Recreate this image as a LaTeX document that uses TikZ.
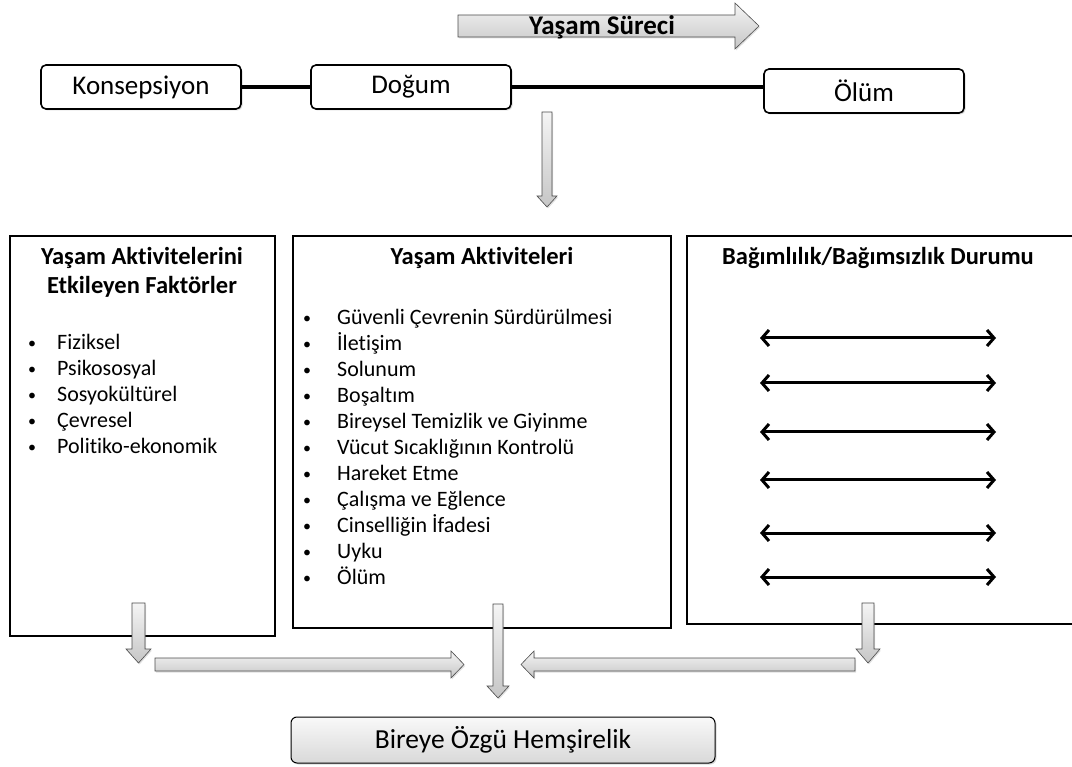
\documentclass[tikz,border=0pt]{standalone}
\usepackage{fontspec}
\setmainfont{Carlito}[Ligatures=NoCommon]
\usetikzlibrary{arrows.meta,shadows}
\newcommand{\blt}[1]{\makebox[#1][l]{\raisebox{1pt}{\fontsize{16}{16}\selectfont\textbullet}}}
\begin{document}
\begin{tikzpicture}[x=1pt,y=-1pt,
  stagebox/.style={draw,line width=1.6pt,rounded corners=5pt,fill=white,
    minimum width=200pt,minimum height=44pt,inner sep=0pt,
    font=\fontsize{27}{30}\selectfont,
    drop shadow={opacity=0.3,shadow xshift=1.5pt,shadow yshift=-1.5pt}},
  panel/.style={draw,line width=1.8pt,fill=white,inner sep=0pt,anchor=north west,
    drop shadow={opacity=0.3,shadow xshift=1.5pt,shadow yshift=-1.5pt}},
  paneltitle/.style={align=center,inner sep=0pt,font=\fontsize{24.5}{29}\selectfont\bfseries},
  itemlist/.style={align=left,inner sep=0pt,anchor=north west,font=\fontsize{22}{26}\selectfont},
  barrow/.style={draw=gray!60!black,line width=0.6pt,top color=gray!8,bottom color=gray!45,
    drop shadow={opacity=0.25,shadow xshift=1pt,shadow yshift=-1.5pt}},
  dblarrow/.style={line width=3pt,{Straight Barb[length=7pt,width=16pt]}-{Straight Barb[length=7pt,width=16pt]}},
  link/.style={line width=3.5pt}
]
\useasboundingbox (0,0) rectangle (1072,767);

% life process arrow
\path[barrow] (458,15) -- (735,15) -- (735,3) -- (759,26) -- (735,49) -- (735,37) -- (458,37) -- cycle;
\node[font=\fontsize{27}{30}\selectfont\bfseries,inner sep=0pt] (surec) at (602,27) {Yaşam Süreci};

% stages
\node[stagebox] (kons) at (141,87) {Konsepsiyon};
\node[stagebox] (dogum) at (411,87) {Doğum};
\node[stagebox] (olum) at (864,91) {Ölüm};
\draw[link] (kons.east) -- (dogum.west);
\draw[link] (dogum.east) -- (olum.west |- dogum.east);

% top down arrow
\path[barrow] (542,112) -- (552,112) -- (552,196) -- (557,196) -- (547,207) -- (537,196) -- (542,196) -- cycle;

% panels
\node[panel,minimum width=265pt,minimum height=400pt] (pleft) at (9,235) {};
\node[panel,minimum width=378pt,minimum height=392pt] (pmid) at (292,235) {};
\node[panel,minimum width=400pt,minimum height=388pt] (pright) at (686,235) {};

\node[paneltitle] (tleft) at (142,272) {Yaşam Aktivitelerini\\Etkileyen Faktörler};
\node[paneltitle] (tmid) at (482,258) {Yaşam Aktiviteleri};
\node[paneltitle] (tright) at (878,258) {Bağımlılık/Bağımsızlık Durumu};

\node[itemlist] (lleft) at (28,334) {%
\blt{29pt}Fiziksel\\
\blt{29pt}Psikososyal\\
\blt{29pt}Sosyokültürel\\
\blt{29pt}Çevresel\\
\blt{29pt}Politiko-ekonomik};

\node[itemlist] (lmid) at (303,309) {%
\blt{34pt}Güvenli Çevrenin Sürdürülmesi\\
\blt{34pt}İletişim\\
\blt{34pt}Solunum\\
\blt{34pt}Boşaltım\\
\blt{34pt}Bireysel Temizlik ve Giyinme\\
\blt{34pt}Vücut Sıcaklığının Kontrolü\\
\blt{34pt}Hareket Etme\\
\blt{34pt}Çalışma ve Eğlence\\
\blt{34pt}Cinselliğin İfadesi\\
\blt{34pt}Uyku\\
\blt{34pt}Ölüm};

% double arrows
\foreach \yy [count=\i] in {338,383,432,480,533,577} {
  \coordinate (dl\i) at (760,\yy);
  \coordinate (dr\i) at (996,\yy);
  \draw[dblarrow] (dl\i) -- (dr\i);
}

% bottom arrows
\path[barrow] (132,603) -- (145,603) -- (145,649) -- (151,649) -- (138.5,663) -- (126,649) -- (132,649) -- cycle;
\path[barrow] (862,603) -- (874,603) -- (874,649) -- (880,649) -- (868,663) -- (856,649) -- (862,649) -- cycle;
\path[barrow] (155,658) -- (451,658) -- (451,651) -- (464,664.5) -- (451,678) -- (451,671) -- (155,671) -- cycle;
\path[barrow] (855,658) -- (534,658) -- (534,651) -- (521,664.5) -- (534,678) -- (534,671) -- (855,671) -- cycle;
\path[barrow] (493,604) -- (503,604) -- (503,686) -- (509,686) -- (498,698) -- (487,686) -- (493,686) -- cycle;

% result box
\node[draw,line width=1pt,rounded corners=6pt,top color=gray!5,bottom color=gray!30,
  minimum width=424pt,minimum height=46pt,inner sep=0pt,
  font=\fontsize{27.5}{30}\selectfont,
  drop shadow={opacity=0.3,shadow xshift=1.5pt,shadow yshift=-1.5pt}] (sonuc) at (503,740) {Bireye Özgü Hemşirelik};
\end{tikzpicture}
\end{document}
